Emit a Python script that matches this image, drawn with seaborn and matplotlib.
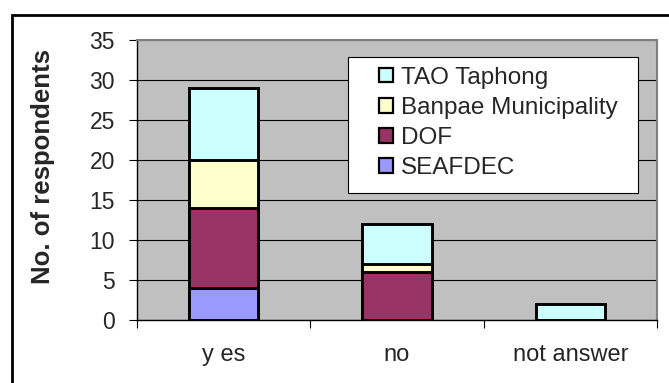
import matplotlib
matplotlib.use("Agg")
import matplotlib.pyplot as plt
from matplotlib.patches import Patch, Rectangle
import seaborn as sns
import pandas as pd

# data
answers = ["y es", "no", "not answer"]
seafdec = [4, 0, 0]
dof = [10, 6, 0]
banpae = [6, 1, 0]
tao = [9, 5, 2]

series = ["SEAFDEC", "DOF", "Banpae Municipality", "TAO Taphong"]
colors = ["#9999FF", "#993366", "#FFFFCC", "#CCFFFF"]

df = pd.DataFrame({"answer": answers, "SEAFDEC": seafdec, "DOF": dof,
                   "Banpae Municipality": banpae, "TAO Taphong": tao})
# cumulative tops for stacking
cum = df[series].cumsum(axis=1)
cum["answer"] = df["answer"]

sns.set_style("white")
plt.rcParams["font.family"] = ["Liberation Sans", "DejaVu Sans"]

fig = plt.figure(figsize=(6.69, 3.83), dpi=100)
ax = fig.add_axes([137 / 669, 63 / 383, 520 / 669, 280 / 383])
ax.set_facecolor("#C0C0C0")

# draw tallest cumulative first so lower segments sit on top
for name, col in zip(series[::-1], colors[::-1]):
    sns.barplot(data=cum, x="answer", y=name, color=col, width=0.4,
                edgecolor="black", linewidth=2.1, saturation=1, ax=ax, zorder=3)

ax.set_ylim(0, 35)
ax.set_xlim(-0.5, 2.5)
ax.set_yticks(range(0, 36, 5))
ax.grid(axis="y", color="black", linewidth=0.8, zorder=1)
ax.set_axisbelow(True)

ax.set_xticks([-0.5, 0.5, 1.5, 2.5])
ax.set_xticklabels([])
ax.set_xticks([0, 1, 2], minor=True)
ax.set_xticklabels(answers, minor=True, fontsize=17)
ax.tick_params(axis="x", which="major", length=6, width=0.8, color="black", direction="out", bottom=True)
ax.tick_params(axis="x", which="minor", length=0, pad=17)
ax.tick_params(axis="y", length=6, width=0.8, color="black", direction="out", left=True, labelsize=16.5, pad=10)

ax.set_xlabel("")
ax.set_ylabel("No. of respondents", fontsize=18.5, fontweight="bold")
ax.yaxis.set_label_coords(-0.158, 0.55)

for side in ["left", "bottom"]:
    ax.spines[side].set_color("black")
    ax.spines[side].set_linewidth(1)
for side in ["top", "right"]:
    ax.spines[side].set_color("#808080")
    ax.spines[side].set_linewidth(1.5)

# legend box
ax.add_patch(Rectangle((0.406, 0.454), 0.557, 0.485, transform=ax.transAxes,
                       facecolor="white", edgecolor="black", linewidth=0.8, zorder=5))
handles = [Patch(facecolor=c, edgecolor="black", linewidth=1.6, label=s)
           for s, c in zip(series[::-1], colors[::-1])]
leg = ax.legend(handles=handles, loc="upper left", bbox_to_anchor=(0.466, 0.905),
                frameon=False, fontsize=17.5, handlelength=0.55, handleheight=0.55,
                handletextpad=0.35, labelspacing=0.34, borderpad=0, borderaxespad=0)
leg.set_zorder(6)

# outer chart frame
fig.patches.append(Rectangle((12 / 669, -0.1), 1.1, 1.1 - 15 / 383, transform=fig.transFigure,
                             fill=False, edgecolor="black", linewidth=2))

fig.savefig("out.png", dpi=100)
